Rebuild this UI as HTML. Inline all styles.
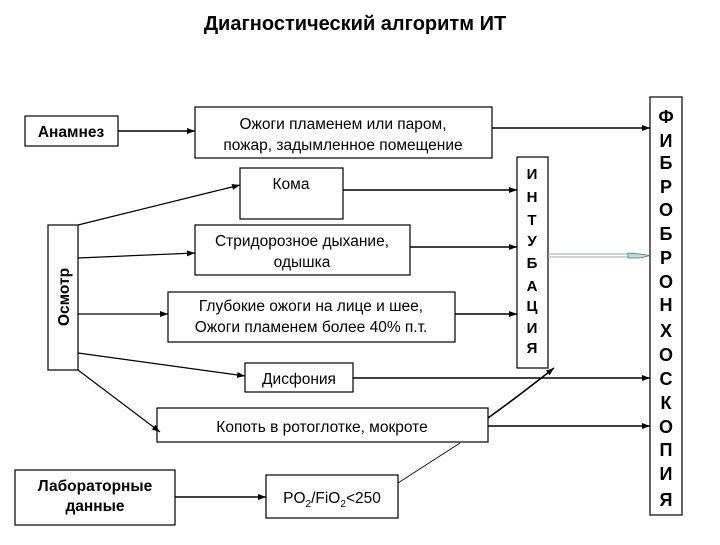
<!DOCTYPE html>
<html><head><meta charset="utf-8"><style>
body{margin:0;background:#fff;width:720px;height:540px;overflow:hidden}
svg{font-family:"Liberation Sans",sans-serif}
</style></head><body>
<svg width="720" height="540" viewBox="0 0 720 540">
<defs><marker id="a" markerWidth="8" markerHeight="6" refX="8" refY="3" orient="auto" markerUnits="userSpaceOnUse"><path d="M0,0L8,3L0,6z" fill="#000"/></marker></defs>
<text x="355" y="30" font-size="20" font-weight="bold" text-anchor="middle">Диагностический алгоритм ИТ</text>
<g fill="#fff" stroke="#000" stroke-width="1.2">
<rect x="25" y="116" width="93" height="30"/>
<rect x="195" y="107" width="297" height="51"/>
<rect x="240" y="168" width="103" height="51"/>
<rect x="195" y="225" width="215" height="50"/>
<rect x="168" y="292" width="287" height="50"/>
<rect x="48" y="225" width="30" height="145"/>
<rect x="245" y="363" width="108" height="29"/>
<rect x="157" y="408" width="331" height="34"/>
<rect x="15" y="470" width="160" height="55"/>
<rect x="266" y="475" width="132" height="43"/>
<rect x="517" y="157" width="31" height="211"/>
<rect x="650" y="97" width="32" height="418"/>
</g>
<g stroke="#000" stroke-width="1.6" fill="none" marker-end="url(#a)">
<line x1="118" y1="131" x2="195" y2="131"/>
<line x1="492" y1="128" x2="650" y2="128"/>
<line x1="343" y1="190" x2="517" y2="190"/>
<line x1="410" y1="247" x2="517" y2="247"/>
<line x1="455" y1="314" x2="517" y2="314"/>
<line x1="353" y1="378" x2="650" y2="378"/>
<line x1="488" y1="426" x2="650" y2="426"/>
<line x1="175" y1="497" x2="266" y2="497"/>
<path d="M488,418 Q520,395 554,368"/>
<g stroke-width="1.2">
<line x1="78" y1="225" x2="240" y2="185"/>
<line x1="78" y1="258" x2="195" y2="253"/>
<line x1="78" y1="314" x2="168" y2="314"/>
<line x1="78" y1="353" x2="245" y2="376"/>
<line x1="78" y1="370" x2="160" y2="432"/>
</g>
</g>
<line x1="398" y1="483" x2="460" y2="443" stroke="#000" stroke-width="0.8"/>
<line x1="548" y1="254" x2="640" y2="254" stroke="#9aa" stroke-width="1"/>
<line x1="548" y1="257" x2="640" y2="257" stroke="#9aa" stroke-width="1"/>
<path d="M628,253L640,254L650,255.5L640,258L628,258z" fill="#bdd" stroke="#577" stroke-width="0.8"/>
<g font-size="15.5" text-anchor="middle">
<text x="71" y="137" font-weight="bold">Анамнез</text>
<text x="343" y="129">Ожоги пламенем или паром,</text>
<text x="343" y="150">пожар, задымленное помещение</text>
<text x="291" y="189">Кома</text>
<text x="302" y="246">Стридорозное дыхание,</text>
<text x="302" y="267">одышка</text>
<text x="311" y="311">Глубокие ожоги на лице и шее,</text>
<text x="311" y="332">Ожоги пламенем более 40% п.т.</text>
<text x="299" y="384">Дисфония</text>
<text x="322" y="432">Копоть в ротоглотке, мокроте</text>
<text x="95" y="491" font-weight="bold">Лабораторные</text>
<text x="95" y="511" font-weight="bold">данные</text>
<text x="332" y="503">PO<tspan font-size="10" dy="4">2</tspan><tspan dy="-4">/FiO</tspan><tspan font-size="10" dy="4">2</tspan><tspan dy="-4">&lt;250</tspan></text>
<text transform="translate(69,297) rotate(-90)" font-weight="bold">Осмотр</text>
</g>
<g font-size="15" font-weight="bold" text-anchor="middle">
<text x="532" y="179">И</text><text x="532" y="202">Н</text><text x="532" y="225">Т</text><text x="532" y="246">У</text><text x="532" y="268">Б</text><text x="532" y="291">А</text><text x="532" y="311">Ц</text><text x="532" y="333">И</text><text x="532" y="353">Я</text>
</g>
<g font-size="18" font-weight="bold" text-anchor="middle">
<text x="666" y="123">Ф</text><text x="666" y="147">И</text><text x="666" y="169">Б</text><text x="666" y="193">Р</text><text x="666" y="216">О</text><text x="666" y="240">Б</text><text x="666" y="264">Р</text><text x="666" y="288">О</text><text x="666" y="311">Н</text><text x="666" y="337">Х</text><text x="666" y="361">О</text><text x="666" y="385">С</text><text x="666" y="409">К</text><text x="666" y="433">О</text><text x="666" y="456">П</text><text x="666" y="480">И</text><text x="666" y="506">Я</text>
</g>
</svg>
</body></html>
